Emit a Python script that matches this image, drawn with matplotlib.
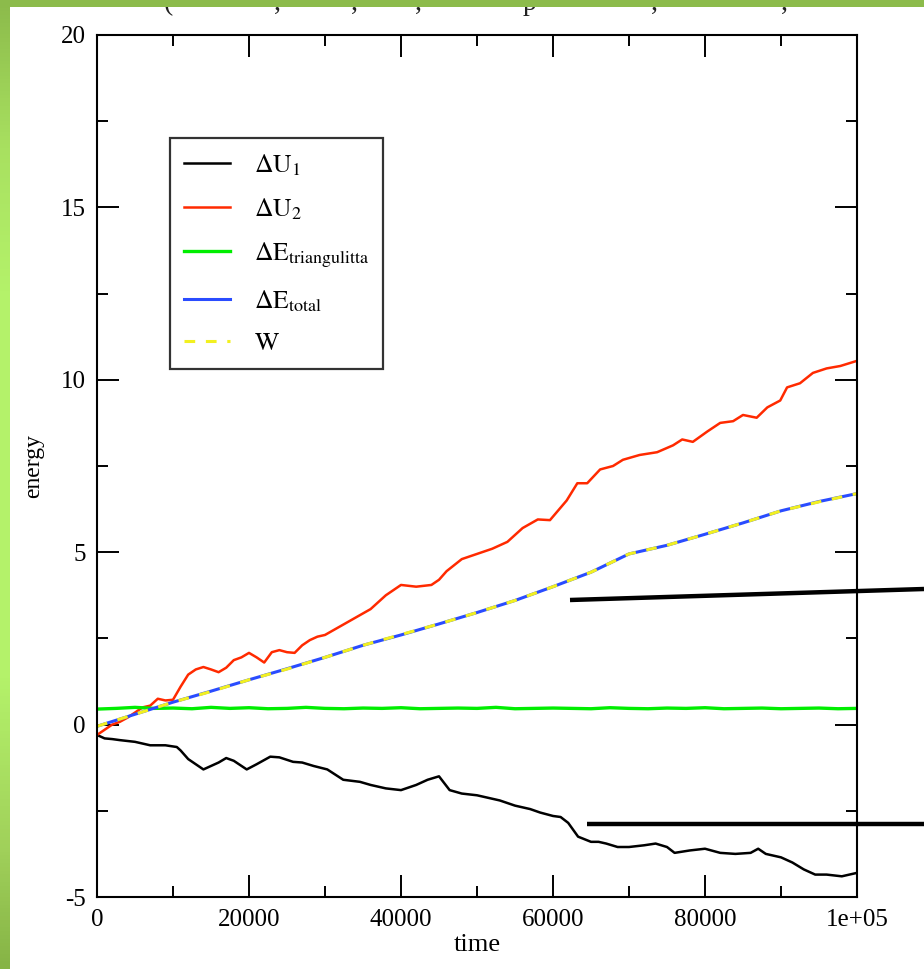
import numpy as np
import matplotlib
matplotlib.use("Agg")
import matplotlib.pyplot as plt
from matplotlib.patches import Rectangle
from matplotlib.lines import Line2D
from matplotlib.colors import LinearSegmentedColormap

plt.rcParams['font.family'] = ['Liberation Serif', 'DejaVu Serif']
plt.rcParams['mathtext.fontset'] = 'stix'

# ---------------- data (time in units of 1000 steps) ----------------
t_u1 = [0, 1, 2, 3, 5, 7, 9, 10.5, 11, 12, 13, 14, 15, 16, 17, 18, 19.7, 21, 22.8, 24,
        25.8, 27, 28.5, 30.3, 32.4, 34.6, 36, 38, 40, 42, 43.5, 45, 46.4, 48, 50, 52, 53,
        55, 57, 58.3, 60, 61, 62, 63.3, 65, 66, 67, 68.5, 70, 72, 73.5, 75, 76, 78, 80,
        82, 84, 86, 87, 88, 90, 91.5, 93, 94.5, 96, 98, 100]
du1 = [-0.3, -0.4, -0.42, -0.45, -0.5, -0.6, -0.6, -0.65, -0.75, -1.0, -1.15, -1.3, -1.2,
       -1.1, -0.97, -1.05, -1.3, -1.15, -0.93, -0.95, -1.08, -1.1, -1.2, -1.3, -1.6, -1.66,
       -1.75, -1.85, -1.9, -1.75, -1.6, -1.5, -1.9, -2.0, -2.05, -2.15, -2.2, -2.35, -2.45,
       -2.55, -2.65, -2.68, -2.85, -3.25, -3.4, -3.4, -3.45, -3.55, -3.55, -3.5, -3.45,
       -3.55, -3.72, -3.65, -3.6, -3.72, -3.75, -3.72, -3.6, -3.75, -3.85, -4.0, -4.2,
       -4.35, -4.35, -4.4, -4.3]

t_u2 = [0, 1, 2, 3, 4, 5, 6, 7, 8, 9, 10, 11, 12, 13, 14, 15, 16, 17, 18, 19, 20, 21, 22,
        23, 24, 25, 26, 27, 28, 29, 30, 32, 34, 36, 38, 40, 42, 44, 45, 46, 48, 50, 52, 54,
        56, 58, 59.6, 61.8, 63.2, 64.5, 66.2, 67.9, 69.2, 71.4, 73.7, 75.8, 77, 78.4, 80.3,
        82, 83.7, 85, 86.8, 88.2, 89.9, 90.8, 92.5, 94.2, 96, 97.8, 100]
du2 = [-0.3, -0.15, 0.0, 0.08, 0.2, 0.35, 0.5, 0.55, 0.75, 0.7, 0.72, 1.1, 1.45, 1.6, 1.67,
       1.6, 1.52, 1.65, 1.87, 1.95, 2.08, 1.95, 1.8, 2.1, 2.16, 2.1, 2.08, 2.3, 2.45, 2.55,
       2.6, 2.85, 3.1, 3.35, 3.75, 4.05, 4.0, 4.05, 4.2, 4.45, 4.8, 4.95, 5.1, 5.3, 5.7,
       5.95, 5.93, 6.5, 7.0, 7.0, 7.4, 7.5, 7.68, 7.82, 7.9, 8.1, 8.27, 8.2, 8.5, 8.75, 8.8,
       8.98, 8.9, 9.2, 9.4, 9.78, 9.9, 10.2, 10.33, 10.4, 10.55]

t_grid = [0, 2.5, 5, 7.5, 10, 12.5, 15, 17.5, 20, 22.5, 25, 27.5, 30, 32.5, 35, 37.5, 40,
          42.5, 45, 47.5, 50, 52.5, 55, 57.5, 60, 62.5, 65, 67.5, 70, 72.5, 75, 77.5, 80,
          82.5, 85, 87.5, 90, 92.5, 95, 97.5, 100]
de_tri = [0.45, 0.47, 0.5, 0.47, 0.48, 0.46, 0.5, 0.47, 0.49, 0.46, 0.47, 0.5, 0.47, 0.46,
          0.48, 0.47, 0.49, 0.46, 0.47, 0.48, 0.47, 0.5, 0.46, 0.47, 0.48, 0.47, 0.46, 0.49,
          0.47, 0.46, 0.48, 0.47, 0.49, 0.46, 0.47, 0.48, 0.46, 0.47, 0.48, 0.46, 0.47]

t_w = [0, 5, 10, 15, 20, 25, 30, 35, 40, 45, 50, 55, 60, 65, 70, 75, 80, 85, 90, 95, 100]
de_total = [-0.05, 0.3, 0.65, 0.97, 1.3, 1.62, 1.95, 2.3, 2.6, 2.92, 3.25, 3.6, 4.0, 4.42,
            4.95, 5.2, 5.52, 5.85, 6.2, 6.47, 6.7]
w_work = [-0.05, 0.3, 0.65, 0.96, 1.3, 1.61, 1.95, 2.3, 2.61, 2.92, 3.25, 3.6, 4.0, 4.42,
          4.95, 5.2, 5.52, 5.85, 6.2, 6.46, 6.7]

x_ticks = [0, 20000, 40000, 60000, 80000, 100000]
x_ticklabels = ['0', '20000', '40000', '60000', '80000', '1e+05']
y_ticks = [-5, 0, 5, 10, 15, 20]
y_ticklabels = ['-5', '0', '5', '10', '15', '20']

labels = [r'$\mathrm{\Delta U_1}$', r'$\mathrm{\Delta U_2}$',
          r'$\mathrm{\Delta E_{triangulitta}}$', r'$\mathrm{\Delta E_{total}}$', r'$\mathrm{W}$']

# ---------------- figure ----------------
W, H = 924, 969
fig = plt.figure(figsize=(W / 100, H / 100), dpi=100)
fig.patch.set_facecolor('white')

def px(x0, y0, x1, y1):
    return [x0 / W, 1 - y1 / H, (x1 - x0) / W, (y1 - y0) / H]

ax = fig.add_axes(px(97, 35, 857, 897))
k = 1000.0
ax.plot(np.array(t_u1) * k, du1, color='black', lw=1.8, label=labels[0])
ax.plot(np.array(t_u2) * k, du2, color='#ff2a00', lw=1.8, label=labels[1])
ax.plot(np.array(t_grid) * k, de_tri, color='#00ee00', lw=2.4, label=labels[2])
ax.plot(np.array(t_w) * k, de_total, color='#2a4cff', lw=2.2, label=labels[3])
ax.plot(np.array(t_w) * k, w_work, color='#f2f020', lw=2.2, dashes=[3.5, 3.5], label=labels[4])

ax.set_xlim(0, 100000)
ax.set_ylim(-5, 20)
ax.set_xticks(x_ticks)
ax.set_xticklabels(x_ticklabels)
ax.set_yticks(y_ticks)
ax.set_yticklabels(y_ticklabels)
ax.set_xticks(np.arange(0, 100001, 10000), minor=True)
ax.set_yticks(np.arange(-5, 20.01, 2.5), minor=True)
ax.tick_params(which='both', direction='in', top=True, right=True, width=1.4,
               labelsize=18)
ax.tick_params(which='major', length=16)
ax.tick_params(which='minor', length=8)
ax.tick_params(axis='x', pad=9)
ax.tick_params(axis='y', pad=8)
for s in ax.spines.values():
    s.set_linewidth(1.5)
ax.set_xlabel('time', fontsize=19, labelpad=2)
ax.set_ylabel('energy', fontsize=17, labelpad=12)

leg = ax.legend(loc='upper left', bbox_to_anchor=((170 - 97) / 760, (897 - 138) / 862),
                borderaxespad=0, fontsize=18.5, frameon=True, fancybox=False,
                edgecolor='black', handlelength=1.8, labelspacing=0.72,
                handletextpad=0.9, borderpad=0.55)
leg.get_frame().set_linewidth(1.6)

# annotation lines (drawn over the figure)
fig.add_artist(Line2D([570 / W, 1.0], [1 - 600 / H, 1 - 589 / H], transform=fig.transFigure,
                      color='black', lw=3.2, solid_capstyle='butt', zorder=20))
fig.add_artist(Line2D([587 / W, 1.0], [1 - 824 / H, 1 - 824 / H], transform=fig.transFigure,
                      color='black', lw=3.2, solid_capstyle='butt', zorder=20))

# partially hidden title fragments at top
for ch, xp in [('(', 168), (',', 277), (',', 354), (',', 418), ('p', 530), (',', 654), (',', 784)]:
    fig.text(xp / W, 1 - 10 / H, ch, fontsize=20, ha='center', va='baseline', color='#222222')

# green slide border
fig.add_artist(Rectangle((0, 1 - 7 / H), 1, 7 / H, transform=fig.transFigure,
                         facecolor='#8cbb4b', edgecolor='none', zorder=30))
gax = fig.add_axes([0, 0, 10 / W, 1])
gax.set_zorder(40)
cmap = LinearSegmentedColormap.from_list('g', [(0, '#86b446'), (0.12, '#a0d05a'),
                                               (0.3, '#b4f26a'), (0.7, '#b4f26a'),
                                               (0.85, '#a8e060'), (1.0, '#8cbb4b')])
gax.imshow(np.linspace(0, 1, 256).reshape(-1, 1), aspect='auto', cmap=cmap,
           origin='lower', extent=[0, 1, 0, 1])
gax.axis('off')

fig.savefig('out.png', dpi=100)
